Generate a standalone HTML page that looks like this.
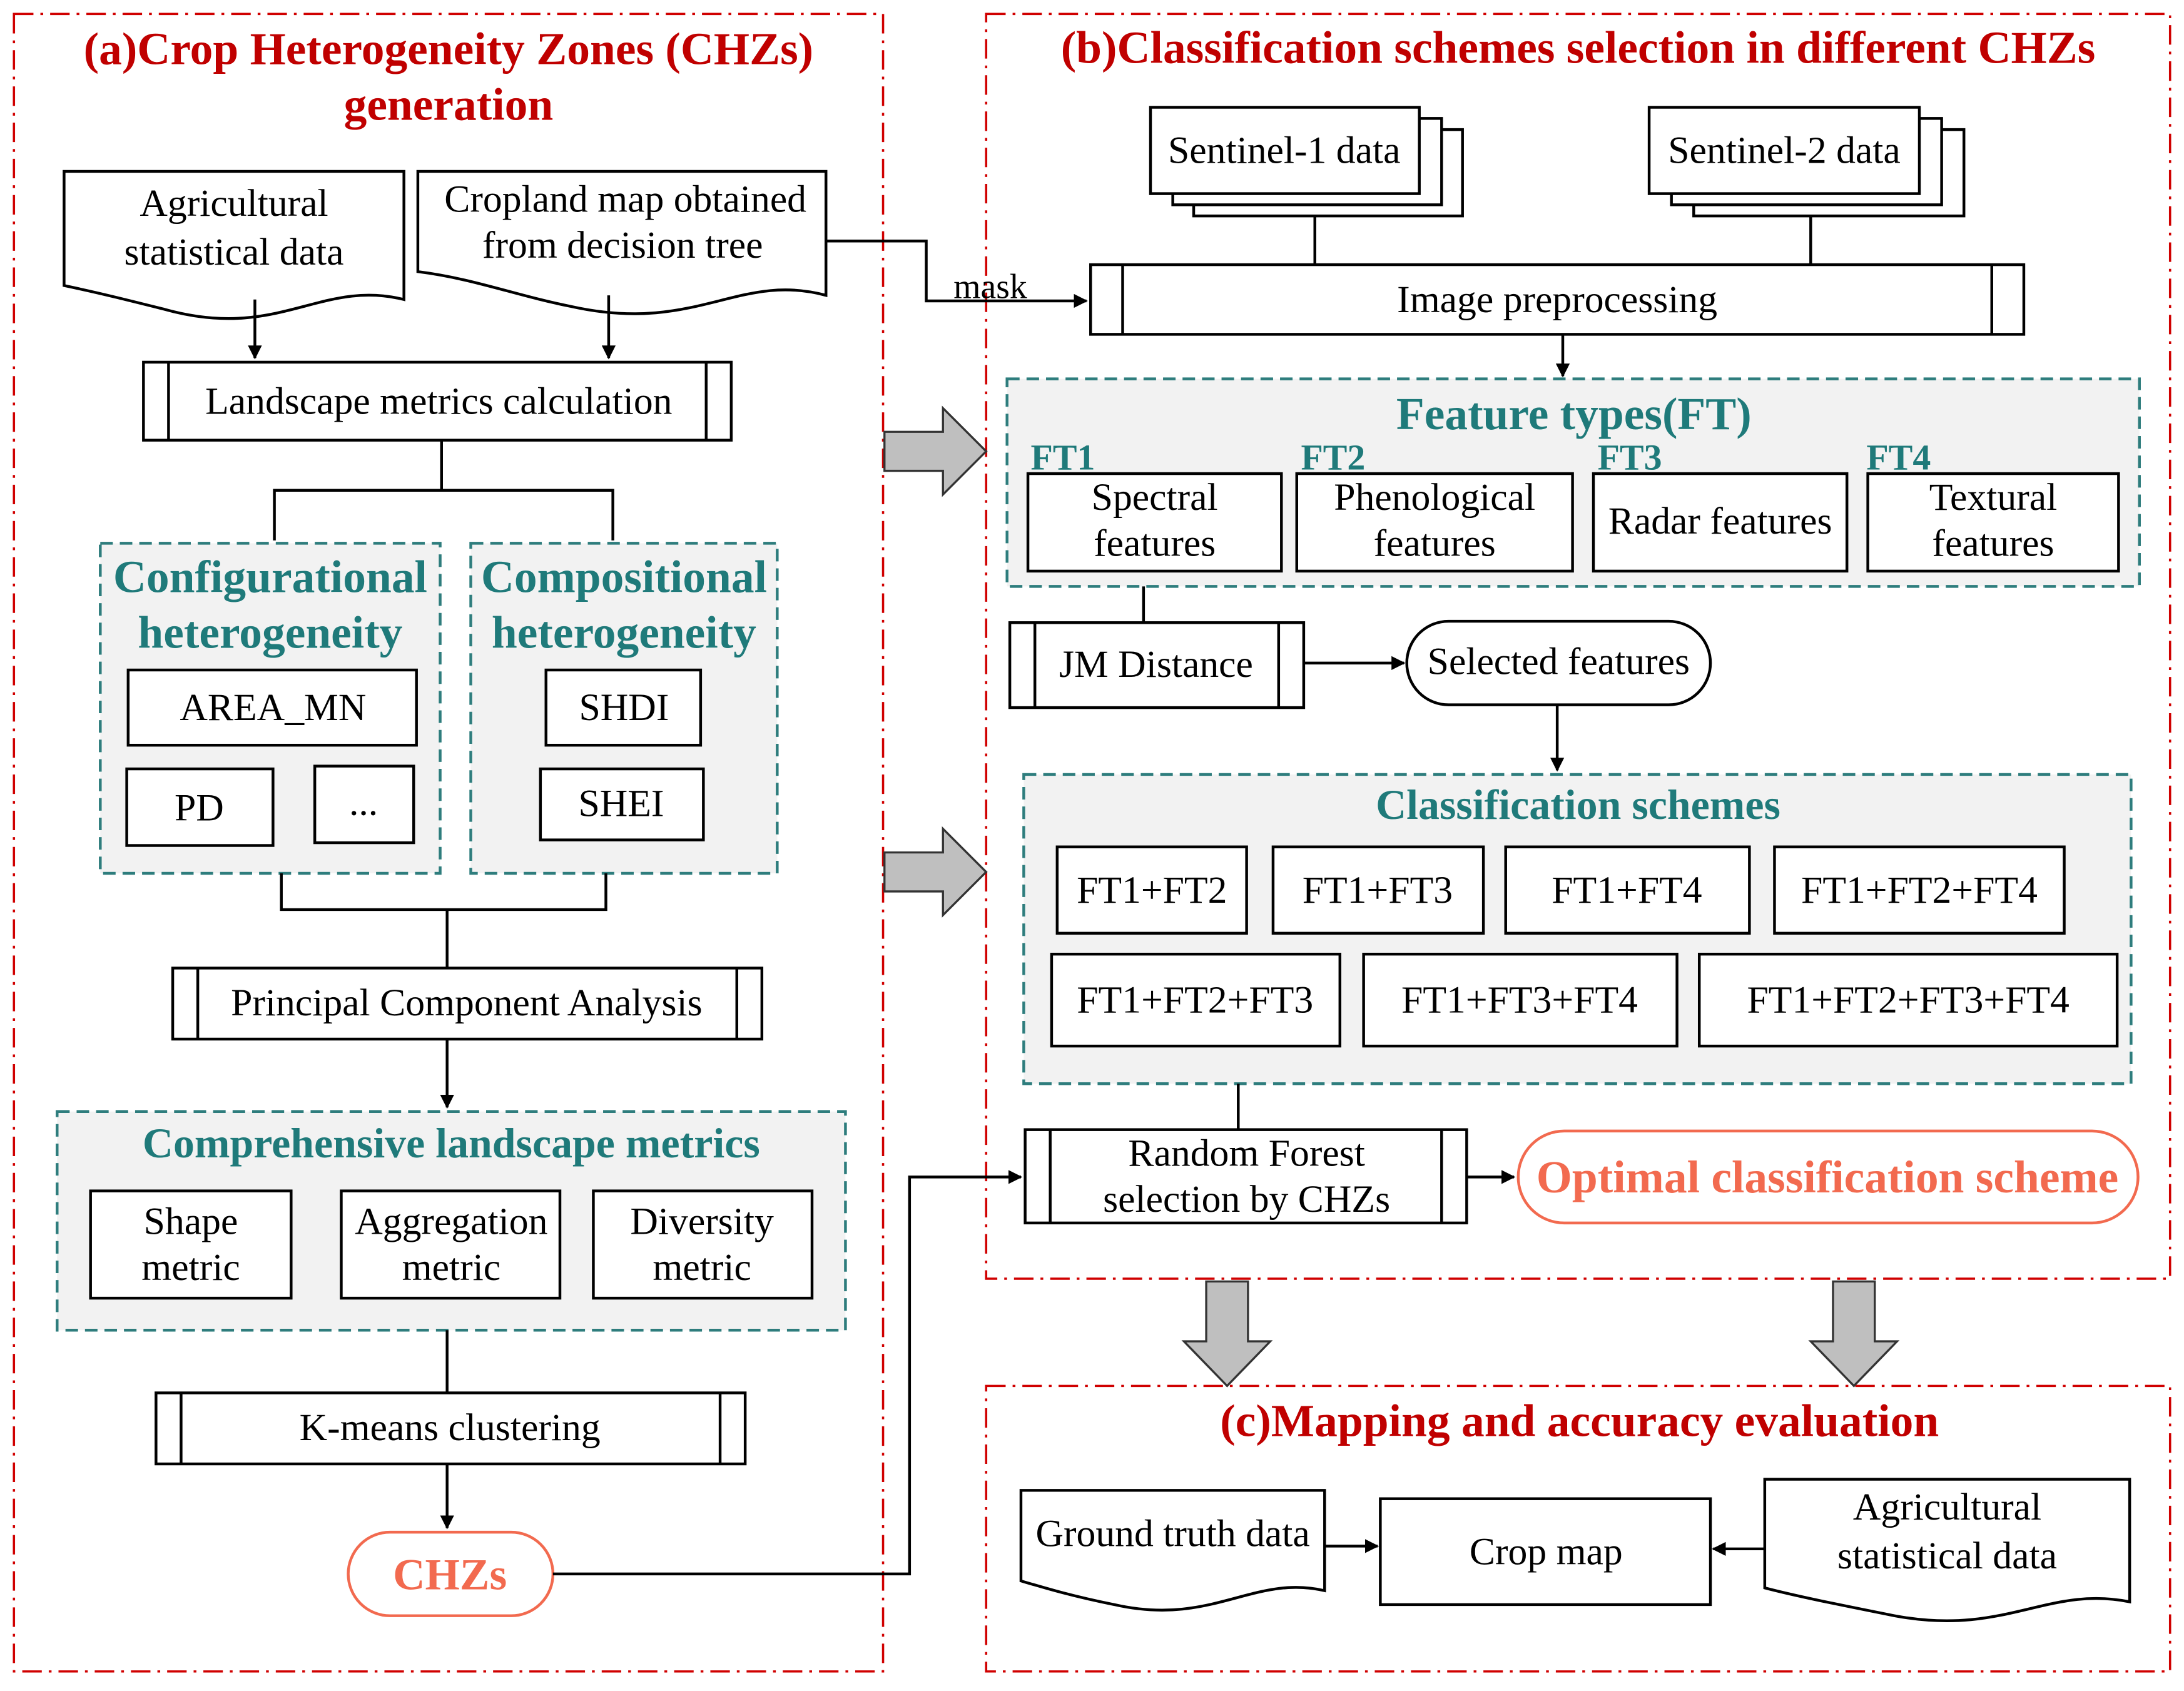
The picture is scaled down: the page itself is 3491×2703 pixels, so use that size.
<!DOCTYPE html>
<html><head><meta charset="utf-8"><style>html,body{margin:0;padding:0;background:#fff}svg{display:block}</style></head>
<body>
<svg width="3491" height="2703" viewBox="0 0 1568 1214" xmlns="http://www.w3.org/2000/svg" font-family="Liberation Serif, serif">
<defs>
<marker id="ar" markerWidth="10" markerHeight="10" refX="9" refY="5" orient="auto" markerUnits="userSpaceOnUse"><path d="M0,0 L10,5 L0,10 z" fill="#000"/></marker>
</defs>
<rect width="1568" height="1214" fill="#fff"/>
<g fill="none" stroke="#d00000" stroke-width="1.6" stroke-dasharray="14,5,2,5">
<rect x="10" y="10" width="624" height="1190"/>
<rect x="708" y="10" width="850" height="908"/>
<rect x="708" y="995" width="850" height="205"/>
</g>
<g fill="#c00000" font-weight="bold" font-size="33" text-anchor="middle">
<text x="322" y="46">(a)Crop Heterogeneity Zones (CHZs)</text>
<text x="322" y="86">generation</text>
<text x="1133" y="45">(b)Classification schemes selection in different CHZs</text>
<text x="1134" y="1031">(c)Mapping and accuracy evaluation</text>
</g>
<g fill="#f2f2f2" stroke="#2e7d7d" stroke-width="2" stroke-dasharray="9,5">
<rect x="72" y="390" width="244" height="237"/>
<rect x="338" y="390" width="220" height="237"/>
<rect x="41" y="798" width="566" height="157"/>
<rect x="723" y="272" width="813" height="149"/>
<rect x="735" y="556" width="795" height="222"/>
</g>
<g fill="#1f7a7a" font-weight="bold" text-anchor="middle">
<text x="194" y="425" font-size="33">Configurational</text>
<text x="194" y="465" font-size="33">heterogeneity</text>
<text x="448" y="425" font-size="33">Compositional</text>
<text x="448" y="465" font-size="33">heterogeneity</text>
<text x="324" y="831" font-size="30.5">Comprehensive landscape metrics</text>
<text x="1130" y="308" font-size="33">Feature types(FT)</text>
<text x="1133" y="588" font-size="30.5">Classification schemes</text>
</g>
<g fill="#1f7a7a" font-weight="bold" font-size="26">
<text x="740" y="337">FT1</text><text x="934" y="337">FT2</text><text x="1147" y="337">FT3</text><text x="1340" y="337">FT4</text>
</g>
<g fill="#fff" stroke="#000" stroke-width="2">
<path d="M46,123 H290 V215 C230,200 200,245 118,222 C90,215 70,210 46,205 Z"/>
<path d="M300,123 H593 V212 C530,195 500,240 410,220 C370,212 340,200 300,195 Z"/>
<path d="M733,1070 H951 V1142 C900,1130 870,1168 800,1152 C770,1146 750,1140 733,1135 Z"/>
<path d="M1267,1062 H1529 V1150 C1470,1138 1440,1175 1360,1160 C1320,1152 1290,1146 1267,1140 Z"/>
</g>
<g font-size="27.7" text-anchor="middle" fill="#000">
<text x="168" y="155">Agricultural</text><text x="168" y="190">statistical  data</text>
<text x="449" y="152">Cropland map obtained</text><text x="447" y="185">from decision tree</text>
<text x="842" y="1110">Ground truth data</text>
<text x="1398" y="1091">Agricultural</text><text x="1398" y="1126">statistical  data</text>
</g>
<g fill="#fff" stroke="#000" stroke-width="2">
<rect x="103" y="260" width="422" height="56"/><line x1="121" y1="260" x2="121" y2="316"/><line x1="507" y1="260" x2="507" y2="316"/>
<rect x="124" y="695" width="423" height="51"/><line x1="142" y1="695" x2="142" y2="746"/><line x1="529" y1="695" x2="529" y2="746"/>
<rect x="112" y="1000" width="423" height="51"/><line x1="130" y1="1000" x2="130" y2="1051"/><line x1="517" y1="1000" x2="517" y2="1051"/>
<rect x="783" y="190" width="670" height="50"/><line x1="806" y1="190" x2="806" y2="240"/><line x1="1430" y1="190" x2="1430" y2="240"/>
<rect x="725" y="447" width="211" height="61"/><line x1="743" y1="447" x2="743" y2="508"/><line x1="918" y1="447" x2="918" y2="508"/>
<rect x="736" y="811" width="317" height="67"/><line x1="754" y1="811" x2="754" y2="878"/><line x1="1035" y1="811" x2="1035" y2="878"/>
<rect x="92" y="481" width="207" height="54"/><rect x="91" y="552" width="105" height="55"/><rect x="226" y="550" width="71" height="55"/>
<rect x="392" y="481" width="111" height="54"/><rect x="388" y="552" width="117" height="51"/>
<rect x="65" y="855" width="144" height="77"/><rect x="245" y="855" width="157" height="77"/><rect x="426" y="855" width="157" height="77"/>
<rect x="857" y="93" width="193" height="62"/><rect x="842" y="85" width="193" height="62"/><rect x="826" y="77" width="193" height="62"/>
<rect x="1216" y="93" width="194" height="62"/><rect x="1200" y="85" width="194" height="62"/><rect x="1184" y="77" width="194" height="62"/>
<rect x="738" y="340" width="182" height="70"/><rect x="931" y="340" width="198" height="70"/><rect x="1144" y="340" width="182" height="70"/><rect x="1341" y="340" width="180" height="70"/>
<rect x="759" y="608" width="136" height="62"/><rect x="914" y="608" width="151" height="62"/><rect x="1081" y="608" width="175" height="62"/><rect x="1274" y="608" width="208" height="62"/>
<rect x="755" y="685" width="207" height="66"/><rect x="979" y="685" width="225" height="66"/><rect x="1220" y="685" width="300" height="66"/>
<rect x="991" y="1076" width="237" height="76"/>
<rect x="1010" y="446" width="218" height="60" rx="30"/>
</g>
<g fill="#fff" stroke="#f26a4f" stroke-width="2">
<rect x="250" y="1100" width="147" height="60" rx="30"/>
<rect x="1090" y="812" width="445" height="66" rx="33"/>
</g>
<g font-size="27.7" text-anchor="middle" fill="#000">
<text x="315" y="297">Landscape metrics calculation</text>
<text x="335" y="729">Principal Component Analysis</text>
<text x="323" y="1034">K-means clustering</text>
<text x="1118" y="224">Image preprocessing</text>
<text x="830" y="486">JM Distance</text>
<text x="895" y="837">Random Forest</text><text x="895" y="870">selection by CHZs</text>
<text x="196" y="517">AREA_MN</text><text x="143" y="589">PD</text><text x="261" y="585">...</text>
<text x="448" y="517">SHDI</text><text x="446" y="586">SHEI</text>
<text x="137" y="886">Shape</text><text x="137" y="919">metric</text>
<text x="324" y="886">Aggregation</text><text x="324" y="919">metric</text>
<text x="504" y="886">Diversity</text><text x="504" y="919">metric</text>
<text x="922" y="117">Sentinel-1 data</text><text x="1281" y="117">Sentinel-2 data</text>
<text x="829" y="366">Spectral</text><text x="829" y="399">features</text>
<text x="1030" y="366">Phenological</text><text x="1030" y="399">features</text>
<text x="1235" y="383">Radar features</text>
<text x="1431" y="366">Textural</text><text x="1431" y="399">features</text>
<text x="1119" y="484">Selected features</text>
<text x="827" y="648">FT1+FT2</text><text x="989" y="648">FT1+FT3</text><text x="1168" y="648">FT1+FT4</text><text x="1378" y="648">FT1+FT2+FT4</text>
<text x="858" y="727">FT1+FT2+FT3</text><text x="1091" y="727">FT1+FT3+FT4</text><text x="1370" y="727">FT1+FT2+FT3+FT4</text>
<text x="1110" y="1123">Crop map</text>
<text x="711" y="214" font-size="25">mask</text>
</g>
<g fill="#f26a4f" font-weight="bold" text-anchor="middle">
<text x="323" y="1141" font-size="32">CHZs</text>
<text x="1312" y="856" font-size="33">Optimal classification scheme</text>
</g>
<g fill="none" stroke="#000" stroke-width="2">
<line x1="183" y1="215" x2="183" y2="257" marker-end="url(#ar)"/>
<line x1="437" y1="212" x2="437" y2="257" marker-end="url(#ar)"/>
<polyline points="317,316 317,352 197,352 197,388"/><polyline points="317,352 440,352 440,388"/>
<polyline points="202,627 202,653 435,653 435,627"/><line x1="321" y1="653" x2="321" y2="695"/>
<line x1="321" y1="746" x2="321" y2="795" marker-end="url(#ar)"/>
<line x1="321" y1="955" x2="321" y2="1000"/>
<line x1="321" y1="1051" x2="321" y2="1097" marker-end="url(#ar)"/>
<polyline points="397,1130 653,1130 653,845 733,845" marker-end="url(#ar)"/>
<polyline points="593,173 665,173 665,216 780,216" marker-end="url(#ar)"/>
<line x1="944" y1="155" x2="944" y2="190"/><line x1="1300" y1="155" x2="1300" y2="190"/>
<line x1="1122" y1="240" x2="1122" y2="270" marker-end="url(#ar)"/>
<line x1="821" y1="421" x2="821" y2="447"/>
<line x1="936" y1="476" x2="1008" y2="476" marker-end="url(#ar)"/>
<line x1="1118" y1="506" x2="1118" y2="553" marker-end="url(#ar)"/>
<line x1="889" y1="778" x2="889" y2="811"/>
<line x1="1053" y1="845" x2="1087" y2="845" marker-end="url(#ar)"/>
<line x1="951" y1="1110" x2="989" y2="1110" marker-end="url(#ar)"/>
<line x1="1267" y1="1112" x2="1230" y2="1112" marker-end="url(#ar)"/>
</g>
<g fill="#bfbfbf" stroke="#333" stroke-width="1.5">
<path d="M635,310 H677 V293 L708,324 L677,355 V338 H635 Z"/>
<path d="M635,612 H677 V595 L708,626 L677,657 V640 H635 Z"/>
<path d="M866,920 H896 V963 H912 L881,995 L850,963 H866 Z"/>
<path d="M1316,920 H1346 V963 H1362 L1331,995 L1300,963 H1316 Z"/>
</g>
</svg>
</body></html>
